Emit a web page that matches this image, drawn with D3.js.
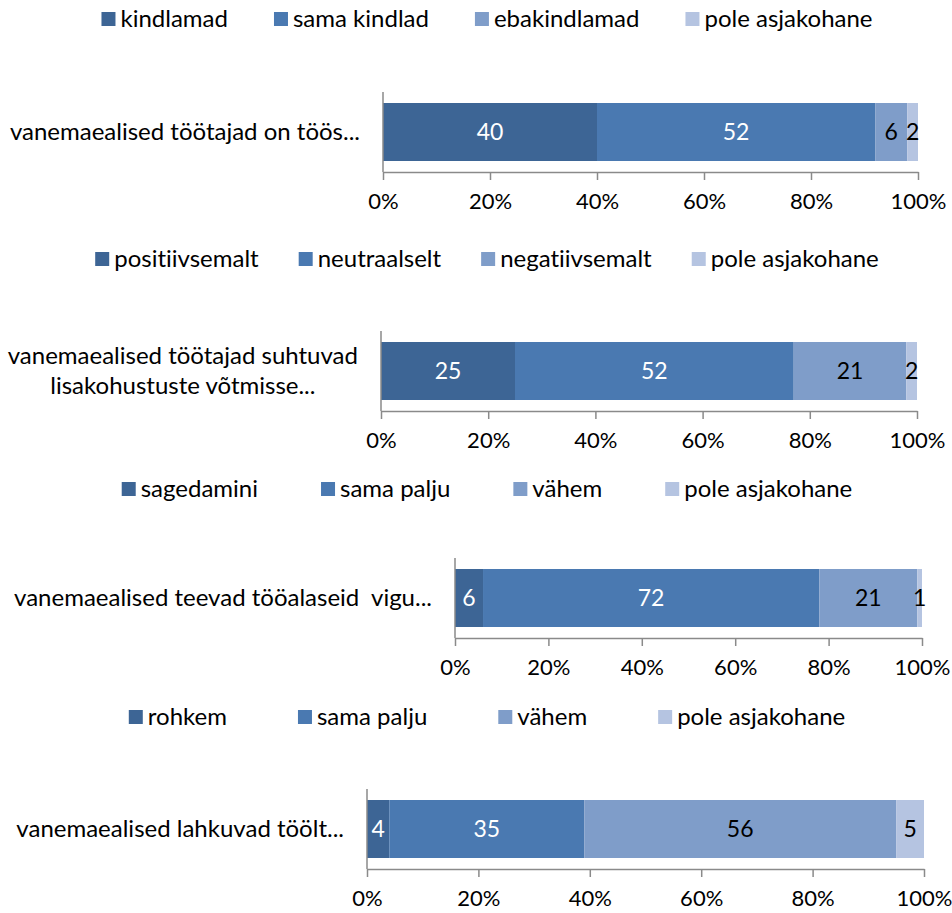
<!DOCTYPE html>
<html>
<head>
<meta charset="utf-8">
<script src="https://cdn.jsdelivr.net/npm/d3@7"></script>
<style>
  body { margin: 0; background: #fff; }
  svg text { font-family: Lato, "Open Sans", sans-serif; white-space: pre; font-variant-ligatures: none; }
</style>
</head>
<body>
<div id="chart"></div>
<script>
// data
const categories = [
  ['vanemaealised töötajad on töös...'],
  ['vanemaealised töötajad suhtuvad', 'lisakohustuste võtmisse...'],
  ['vanemaealised teevad tööalaseid  vigu...'],
  ['vanemaealised lahkuvad töölt...']
];
const seriesNames = [
  ['kindlamad', 'sama kindlad', 'ebakindlamad', 'pole asjakohane'],
  ['positiivsemalt', 'neutraalselt', 'negatiivsemalt', 'pole asjakohane'],
  ['sagedamini', 'sama palju', 'vähem', 'pole asjakohane'],
  ['rohkem', 'sama palju', 'vähem', 'pole asjakohane']
];
const values = [
  [40, 52, 6, 2],
  [25, 52, 21, 2],
  [6, 72, 21, 1],
  [4, 35, 56, 5]
];
const tickValues = [0, 20, 40, 60, 80, 100];

// layout of the four little charts
const layout = [
  {x0: 383, x1: 918, barTop: 103, legendY: 19, legendGap: 46},
  {x0: 381, x1: 917, barTop: 342, legendY: 259, legendGap: 40},
  {x0: 455, x1: 922, barTop: 569, legendY: 489, legendGap: 63},
  {x0: 367, x1: 924, barTop: 800, legendY: 717, legendGap: 71}
];
const colors = ['#3d6595', '#4a79b1', '#7f9dc9', '#b5c4e1'];
const textColors = ['#fff', '#fff', '#000', '#000'];
const barH = 58;
const fontSize = 24;
const valueFont = 23;
const tickFont = 22;
const axisColor = '#8a8a8a';

const svg = d3.select('#chart').append('svg')
  .attr('width', 952)
  .attr('height', 913);

layout.forEach(function (lay, i) {
  const g = svg.append('g');
  const x = d3.scaleLinear().domain([0, 100]).range([lay.x0, lay.x1]);
  const axisY = lay.barTop + barH + 11;

  // stacked pieces
  let acc = 0;
  const pieces = values[i].map(function (v, k) {
    const p = {start: acc, value: v, k: k};
    acc += v;
    return p;
  });

  g.selectAll('rect.seg')
    .data(pieces)
    .enter()
    .append('rect')
    .attr('class', 'seg')
    .attr('x', d => x(d.start))
    .attr('y', lay.barTop)
    .attr('width', d => x(d.start + d.value) - x(d.start))
    .attr('height', barH)
    .attr('fill', d => colors[d.k]);

  g.selectAll('text.val')
    .data(pieces)
    .enter()
    .append('text')
    .attr('class', 'val')
    .attr('x', d => x(d.start + d.value / 2))
    .attr('y', lay.barTop + barH / 2)
    .attr('dy', '0.35em')
    .attr('text-anchor', 'middle')
    .attr('font-size', valueFont)
    .attr('fill', d => textColors[d.k])
    .text(d => d.value);

  // axis
  const axis = d3.axisBottom(x)
    .tickValues(tickValues)
    .tickSize(8)
    .tickSizeOuter(0)
    .tickPadding(13)
    .tickFormat(d => d + '%');
  const ax = g.append('g')
    .attr('transform', `translate(0,${axisY})`)
    .call(axis);
  ax.select('.domain').attr('stroke', axisColor).attr('stroke-width', 1.5);
  ax.selectAll('.tick line').attr('stroke', axisColor).attr('stroke-width', 1.5);
  ax.selectAll('.tick text')
    .attr('font-size', tickFont)
    .attr('font-family', 'Lato, sans-serif')
    .attr('fill', '#000');

  g.append('line')
    .attr('x1', lay.x0).attr('x2', lay.x0)
    .attr('y1', lay.barTop - 11).attr('y2', axisY)
    .attr('stroke', axisColor)
    .attr('stroke-width', 1.5);

  // category label
  const lines = categories[i];
  const lab = g.append('text')
    .attr('font-size', fontSize)
    .attr('fill', '#000');
  lines.forEach(function (t, j) {
    lab.append('tspan')
      .attr('y', lay.barTop + barH / 2 + (j - (lines.length - 1) / 2) * 30)
      .attr('dy', '0.35em')
      .text(t);
  });
  if (lines.length === 1) {
    lab.attr('text-anchor', 'end');
    lab.selectAll('tspan').attr('x', lay.x0 - 23);
  } else {
    let w = 0;
    lab.selectAll('tspan').each(function () {
      w = Math.max(w, this.getComputedTextLength());
    });
    lab.attr('text-anchor', 'middle');
    lab.selectAll('tspan').attr('x', lay.x0 - 23 - w / 2);
  }

  // legend, items spaced by a constant gap and centred
  const leg = g.append('g');
  const items = seriesNames[i].map(function (name, k) {
    const it = leg.append('g');
    it.append('rect')
      .attr('width', 14).attr('height', 14)
      .attr('y', lay.legendY - 7)
      .attr('fill', colors[k]);
    const t = it.append('text')
      .attr('x', 19)
      .attr('y', lay.legendY)
      .attr('dy', '0.35em')
      .attr('font-size', fontSize)
      .attr('fill', '#000')
      .text(name);
    return {node: it, w: 19 + t.node().getComputedTextLength()};
  });
  const total = d3.sum(items, d => d.w) + lay.legendGap * (items.length - 1);
  let cx = 487 - total / 2;
  items.forEach(function (d) {
    d.node.attr('transform', `translate(${cx},0)`);
    cx += d.w + lay.legendGap;
  });
});
</script>
</body>
</html>
